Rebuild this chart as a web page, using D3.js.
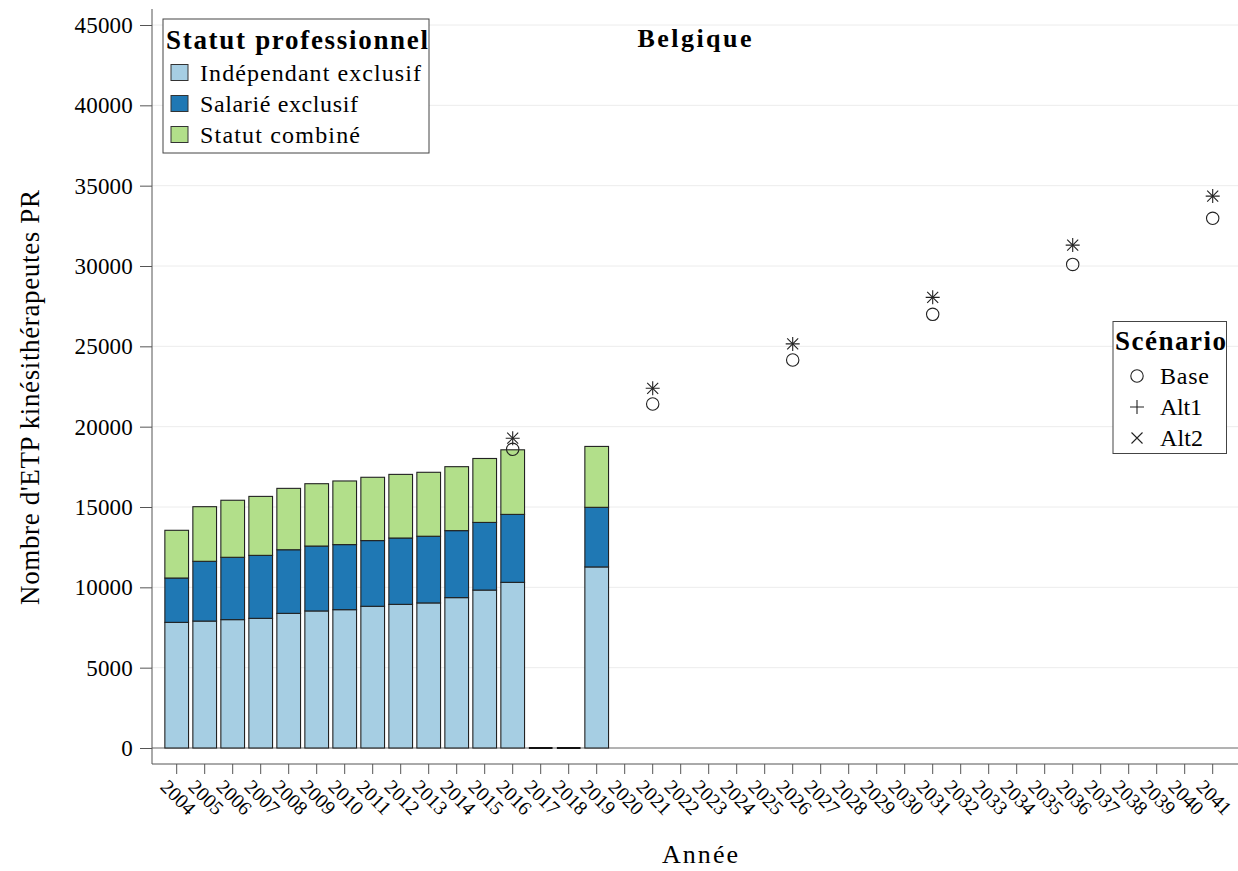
<!DOCTYPE html>
<html><head><meta charset="utf-8">
<script src="https://cdn.jsdelivr.net/npm/d3@7"></script>
<style>
html,body{margin:0;padding:0;background:#fff;}
text{font-family:"Liberation Serif","Times New Roman",serif;fill:#000;}
</style></head>
<body><svg id="c" width="1238" height="871"></svg>
<script>
const years = ["2004","2005","2006","2007","2008","2009","2010","2011","2012","2013","2014","2015","2016","2017","2018","2019","2020","2021","2022","2023","2024","2025","2026","2027","2028","2029","2030","2031","2032","2033","2034","2035","2036","2037","2038","2039","2040","2041"];
const barYears = ["2004","2005","2006","2007","2008","2009","2010","2011","2012","2013","2014","2015","2016","2017","2018","2019"];
const independant = [7820,7900,7990,8070,8380,8530,8610,8820,8940,9030,9360,9830,10310,0,0,11270];
const salarie     = [2760,3720,3880,3920,3960,4040,4050,4090,4130,4150,4170,4210,4230,0,0,3710];
const combine     = [2970,3400,3550,3670,3820,3880,3960,3940,3960,3980,3980,3980,4020,0,0,3790];
const seriesNames = ["Indépendant exclusif","Salarié exclusif","Statut combiné"];
const seriesColors = ["#a6cee3","#1f78b4","#b2df8a"];
const scenYears = ["2016","2021","2026","2031","2036","2041"];
const base = [18590,21410,24150,26990,30100,32970];
const alt1 = [19280,22390,25150,28050,31300,34350];
const alt2 = [19280,22390,25150,28050,31300,34350];
const yTicks = [0,5000,10000,15000,20000,25000,30000,35000,40000,45000];

const svg = d3.select("#c");
const x = d3.scaleBand().domain(years).range([162.7,1226.7]).paddingInner(0.154).paddingOuter(0.077);
const y = d3.scaleLinear().domain([0,45000]).range([748,25]);
const xL = 152, xR = 1238, yAxisBottom = 764;

// gridlines
svg.append("g").selectAll("line").data(yTicks.filter(d=>d>0)).join("line")
  .attr("x1",xL).attr("x2",xR).attr("y1",d=>y(d)).attr("y2",d=>y(d))
  .attr("stroke","#ececec").attr("stroke-width",1);

// zero line
svg.append("line").attr("x1",xL).attr("x2",xR).attr("y1",y(0)).attr("y2",y(0)).attr("stroke","#666").attr("stroke-width",1);

// y axis
const yAx = svg.append("g").attr("transform",`translate(${xL},0)`)
  .call(d3.axisLeft(y).tickValues(yTicks).tickSize(12).tickPadding(7).tickFormat(d3.format("d")));
yAx.select(".domain").remove();
yAx.selectAll(".tick line").attr("stroke","#555");
yAx.selectAll(".tick text").attr("font-size",23).attr("fill","#000").attr("letter-spacing","0.2px");
svg.append("line").attr("x1",xL).attr("x2",xL).attr("y1",9).attr("y2",yAxisBottom).attr("stroke","#555");

// x axis
const xAx = svg.append("g").attr("transform",`translate(0,${yAxisBottom})`)
  .call(d3.axisBottom(x).tickSize(10).tickSizeOuter(0));
xAx.select(".domain").remove();
svg.append("line").attr("x1",xL).attr("x2",xR).attr("y1",yAxisBottom).attr("y2",yAxisBottom).attr("stroke","#555");
xAx.selectAll(".tick line").attr("stroke","#555");
xAx.selectAll(".tick text").attr("font-size",20).attr("fill","#000")
  .attr("text-anchor","middle").attr("dy",null).attr("y",null)
  .attr("transform","translate(0,35) rotate(45)").attr("dominant-baseline","middle");

// stacked bars
const rows = barYears.map((yr,i)=>({year:yr, v:[independant[i],salarie[i],combine[i]]}));
const gBars = svg.append("g");
rows.forEach(r=>{
  let cum = 0;
  const total = r.v[0]+r.v[1]+r.v[2];
  if (total === 0) {
    gBars.append("line").attr("x1",x(r.year)).attr("x2",x(r.year)+x.bandwidth())
      .attr("y1",y(0)).attr("y2",y(0)).attr("stroke","#111").attr("stroke-width",2);
    return;
  }
  r.v.forEach((v,k)=>{
    gBars.append("rect").attr("x",x(r.year)).attr("width",x.bandwidth())
      .attr("y",y(cum+v)).attr("height",y(cum)-y(cum+v))
      .attr("fill",seriesColors[k]).attr("stroke","#222").attr("stroke-width",1.1);
    cum += v;
  });
});

// scenario markers
const mk = svg.append("g").attr("stroke","#222").attr("fill","none").attr("stroke-width",1.1);
function circ(g,cx,cy){ g.append("circle").attr("cx",cx).attr("cy",cy).attr("r",6.2); }
function plus(g,cx,cy){ g.append("path").attr("d",`M${cx-7},${cy}H${cx+7}M${cx},${cy-7}V${cy+7}`); }
function cross(g,cx,cy){ g.append("path").attr("d",`M${cx-5.5},${cy-5.5}L${cx+5.5},${cy+5.5}M${cx-5.5},${cy+5.5}L${cx+5.5},${cy-5.5}`); }
scenYears.forEach((yr,i)=>{
  const cx = x(yr)+x.bandwidth()/2;
  circ(mk,cx,y(base[i]));
  plus(mk,cx,y(alt1[i]));
  cross(mk,cx,y(alt2[i]));
});

// title
svg.append("text").attr("x",694.5).attr("y",47).attr("text-anchor","middle").attr("font-weight","bold")
  .attr("font-size",26).attr("textLength",114).attr("lengthAdjust","spacing").text("Belgique");

// axis titles
svg.append("text").attr("x",700).attr("y",863).attr("text-anchor","middle").attr("font-size",26)
  .attr("textLength",76).attr("lengthAdjust","spacing").text("Année");
svg.append("text").attr("transform","translate(39,397.5) rotate(-90)").attr("text-anchor","middle").attr("font-size",27)
  .attr("textLength",415).attr("lengthAdjust","spacing").text("Nombre d'ETP kinésithérapeutes PR");

// legend 1
const lg = svg.append("g");
lg.append("rect").attr("x",163).attr("y",19).attr("width",266).attr("height",134).attr("fill","#fff").attr("stroke","#444").attr("stroke-width",1);
lg.append("text").attr("x",166).attr("y",49).attr("font-weight","bold").attr("font-size",27)
  .attr("textLength",262).attr("lengthAdjust","spacing").text("Statut professionnel");
const legW = [221,158,160];
seriesNames.forEach((n,i)=>{
  const cy = 72.5 + i*31;
  lg.append("rect").attr("x",171).attr("y",cy-8).attr("width",17).attr("height",16).attr("fill",seriesColors[i]).attr("stroke","#333");
  lg.append("text").attr("x",200).attr("y",cy+8).attr("font-size",24)
    .attr("textLength",legW[i]).attr("lengthAdjust","spacing").text(n);
});

// legend 2
const lg2 = svg.append("g");
lg2.append("rect").attr("x",1113).attr("y",321.5).attr("width",113.5).attr("height",132).attr("fill","#fff").attr("stroke","#444");
lg2.append("text").attr("x",1115).attr("y",350).attr("font-weight","bold").attr("font-size",27)
  .attr("textLength",111).attr("lengthAdjust","spacing").text("Scénario");
const scenNames = ["Base","Alt1","Alt2"];
const scenW = [49,42,43];
const lmk = lg2.append("g").attr("stroke","#222").attr("fill","none").attr("stroke-width",1.1);
scenNames.forEach((n,i)=>{
  const cy = 376 + i*31;
  if(i===0) circ(lmk,1137,cy); else if(i===1) plus(lmk,1137,cy); else cross(lmk,1137,cy);
  lg2.append("text").attr("x",1160).attr("y",cy+8).attr("font-size",24)
    .attr("textLength",scenW[i]).attr("lengthAdjust","spacing").text(n);
});
</script></body></html>
